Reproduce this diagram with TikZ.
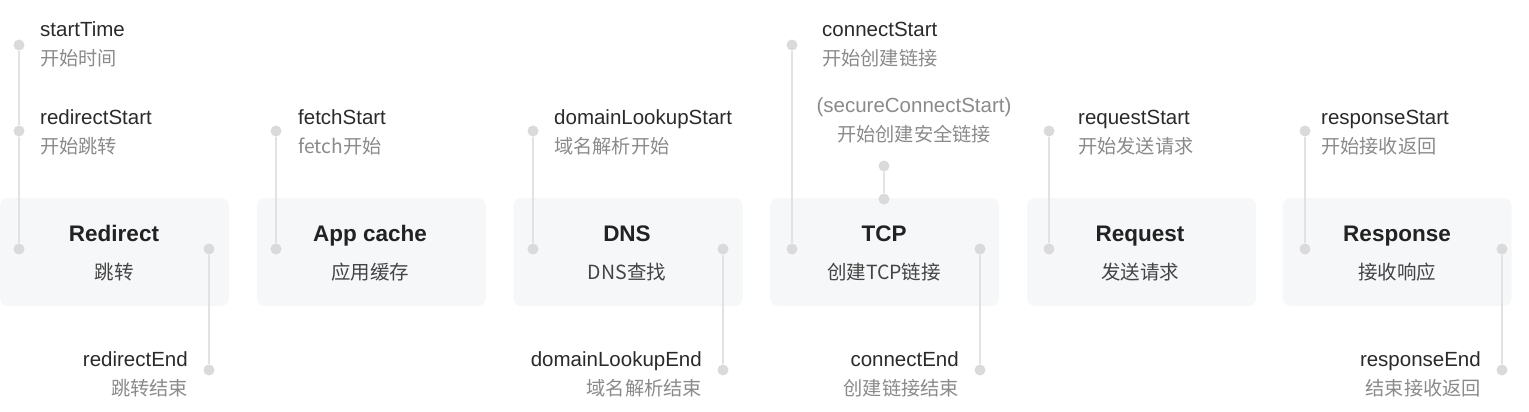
\documentclass[tikz,border=0pt]{standalone}
\usepackage{fontspec}
\setmainfont{Liberation Sans}
\newfontfamily\cjk{Noto Sans CJK SC}
\definecolor{boxfill}{HTML}{F5F7F8}
\definecolor{dotc}{HTML}{DADADA}
\definecolor{linec}{HTML}{E2E2E2}
\definecolor{entext}{HTML}{2A2A2A}
\definecolor{zhtext}{HTML}{8A8A8A}
\definecolor{ttl}{HTML}{222222}
\definecolor{sub}{HTML}{444444}
\begin{document}
\begin{tikzpicture}[x=1pt,y=-1pt,
  stage/.style={draw=none,fill=boxfill,rounded corners=8pt,minimum width=229pt,minimum height=108pt,inner sep=0pt},
  dot/.style={circle,fill=dotc,inner sep=0pt,minimum size=11pt},
  link/.style={draw=linec,line width=2pt},
  en/.style={inner sep=0pt,text=entext,font=\fontsize{20.5}{22}\selectfont},
  engray/.style={inner sep=0pt,text=zhtext,font=\fontsize{20.5}{22}\selectfont},
  zh/.style={inner sep=0pt,text=zhtext,font=\cjk\fontsize{19.2}{22}\selectfont},
  ttlf/.style={inner sep=0pt,text=ttl,font=\bfseries\fontsize{22.5}{24}\selectfont},
  subf/.style={inner sep=0pt,text=sub,font=\cjk\fontsize{19.5}{22}\selectfont}]
\useasboundingbox (0,0) rectangle (1529,412);
% boxes
\node[stage] (b1) at (114.5,252) {};
\node[stage] (b2) at (371.5,252) {};
\node[stage] (b3) at (628,252) {};
\node[stage] (b4) at (884.5,252) {};
\node[stage] (b5) at (1141.5,252) {};
\node[stage] (b6) at (1397,252) {};
\node[ttlf,anchor=base] (t1) at (114,241) {Redirect};
\node[subf,anchor=base] (s1) at (114,279) {跳转};
\node[ttlf,anchor=base] (t2) at (370,241) {App cache};
\node[subf,anchor=base] (s2) at (370,279) {应用缓存};
\node[ttlf,anchor=base] (t3) at (627,241) {DNS};
\node[subf,anchor=base] (s3) at (627,279) {DNS查找};
\node[ttlf,anchor=base] (t4) at (884,241) {TCP};
\node[subf,anchor=base] (s4) at (884,279) {创建TCP链接};
\node[ttlf,anchor=base] (t5) at (1140,241) {Request};
\node[subf,anchor=base] (s5) at (1140,279) {发送请求};
\node[ttlf,anchor=base] (t6) at (1397,241) {Response};
\node[subf,anchor=base] (s6) at (1397,279) {接收响应};
% dots
\node[dot] (d1a) at (19,45) {};
\node[dot] (d1b) at (19,131) {};
\node[dot] (d1c) at (19,249) {};
\node[dot] (d1d) at (209,249) {};
\node[dot] (d1e) at (209,370) {};
\node[dot] (d2b) at (276,131) {};
\node[dot] (d2c) at (276,249) {};
\node[dot] (d3b) at (533,131) {};
\node[dot] (d3c) at (533,249) {};
\node[dot] (d3d) at (723,249) {};
\node[dot] (d3e) at (723,370) {};
\node[dot] (d4a) at (792,45) {};
\node[dot] (d4c) at (792,249) {};
\node[dot] (d4m) at (884,166) {};
\node[dot] (d4n) at (884,199) {};
\node[dot] (d4d) at (980,249) {};
\node[dot] (d4e) at (980,370) {};
\node[dot] (d5b) at (1049,131) {};
\node[dot] (d5c) at (1049,249) {};
\node[dot] (d6b) at (1305,131) {};
\node[dot] (d6c) at (1305,249) {};
\node[dot] (d6d) at (1502,249) {};
\node[dot] (d6e) at (1502,370) {};
% links
\draw[link] (d1a) -- (d1b) -- (d1c);
\draw[link] (d1d) -- (d1e);
\draw[link] (d2b) -- (d2c);
\draw[link] (d3b) -- (d3c);
\draw[link] (d3d) -- (d3e);
\draw[link] (d4a) -- (d4c);
\draw[link] (d4m) -- (d4n);
\draw[link] (d4d) -- (d4e);
\draw[link] (d5b) -- (d5c);
\draw[link] (d6b) -- (d6c);
\draw[link] (d6d) -- (d6e);
% labels
\node[en,anchor=base west] (l1) at (40,37) {startTime};
\node[zh,anchor=base west] (z1) at (40,66) {开始时间};
\node[en,anchor=base west] (l2) at (40,124) {redirectStart};
\node[zh,anchor=base west] (z2) at (40,153) {开始跳转};
\node[en,anchor=base east] (l3) at (188,366) {redirectEnd};
\node[zh,anchor=base east] (z3) at (188,395) {跳转结束};
\node[en,anchor=base west] (l4) at (298,124) {fetchStart};
\node[zh,anchor=base west] (z4) at (298,153) {fetch开始};
\node[en,anchor=base west] (l5) at (554,124) {domainLookupStart};
\node[zh,anchor=base west] (z5) at (554,153) {域名解析开始};
\node[en,anchor=base east] (l6) at (702,366) {domainLookupEnd};
\node[zh,anchor=base east] (z6) at (702,395) {域名解析结束};
\node[en,anchor=base west] (l7) at (822,37) {connectStart};
\node[zh,anchor=base west] (z7) at (822,66) {开始创建链接};
\node[engray,anchor=base] (l8) at (914,112) {(secureConnectStart)};
\node[zh,anchor=base] (z8) at (914,141) {开始创建安全链接};
\node[en,anchor=base east] (l9) at (959,366) {connectEnd};
\node[zh,anchor=base east] (z9) at (959,395) {创建链接结束};
\node[en,anchor=base west] (l10) at (1078,124) {requestStart};
\node[zh,anchor=base west] (z10) at (1078,153) {开始发送请求};
\node[en,anchor=base west] (l11) at (1321,124) {responseStart};
\node[zh,anchor=base west] (z11) at (1321,153) {开始接收返回};
\node[en,anchor=base east] (l12) at (1481,366) {responseEnd};
\node[zh,anchor=base east] (z12) at (1481,395) {结束接收返回};
\end{tikzpicture}
\end{document}
